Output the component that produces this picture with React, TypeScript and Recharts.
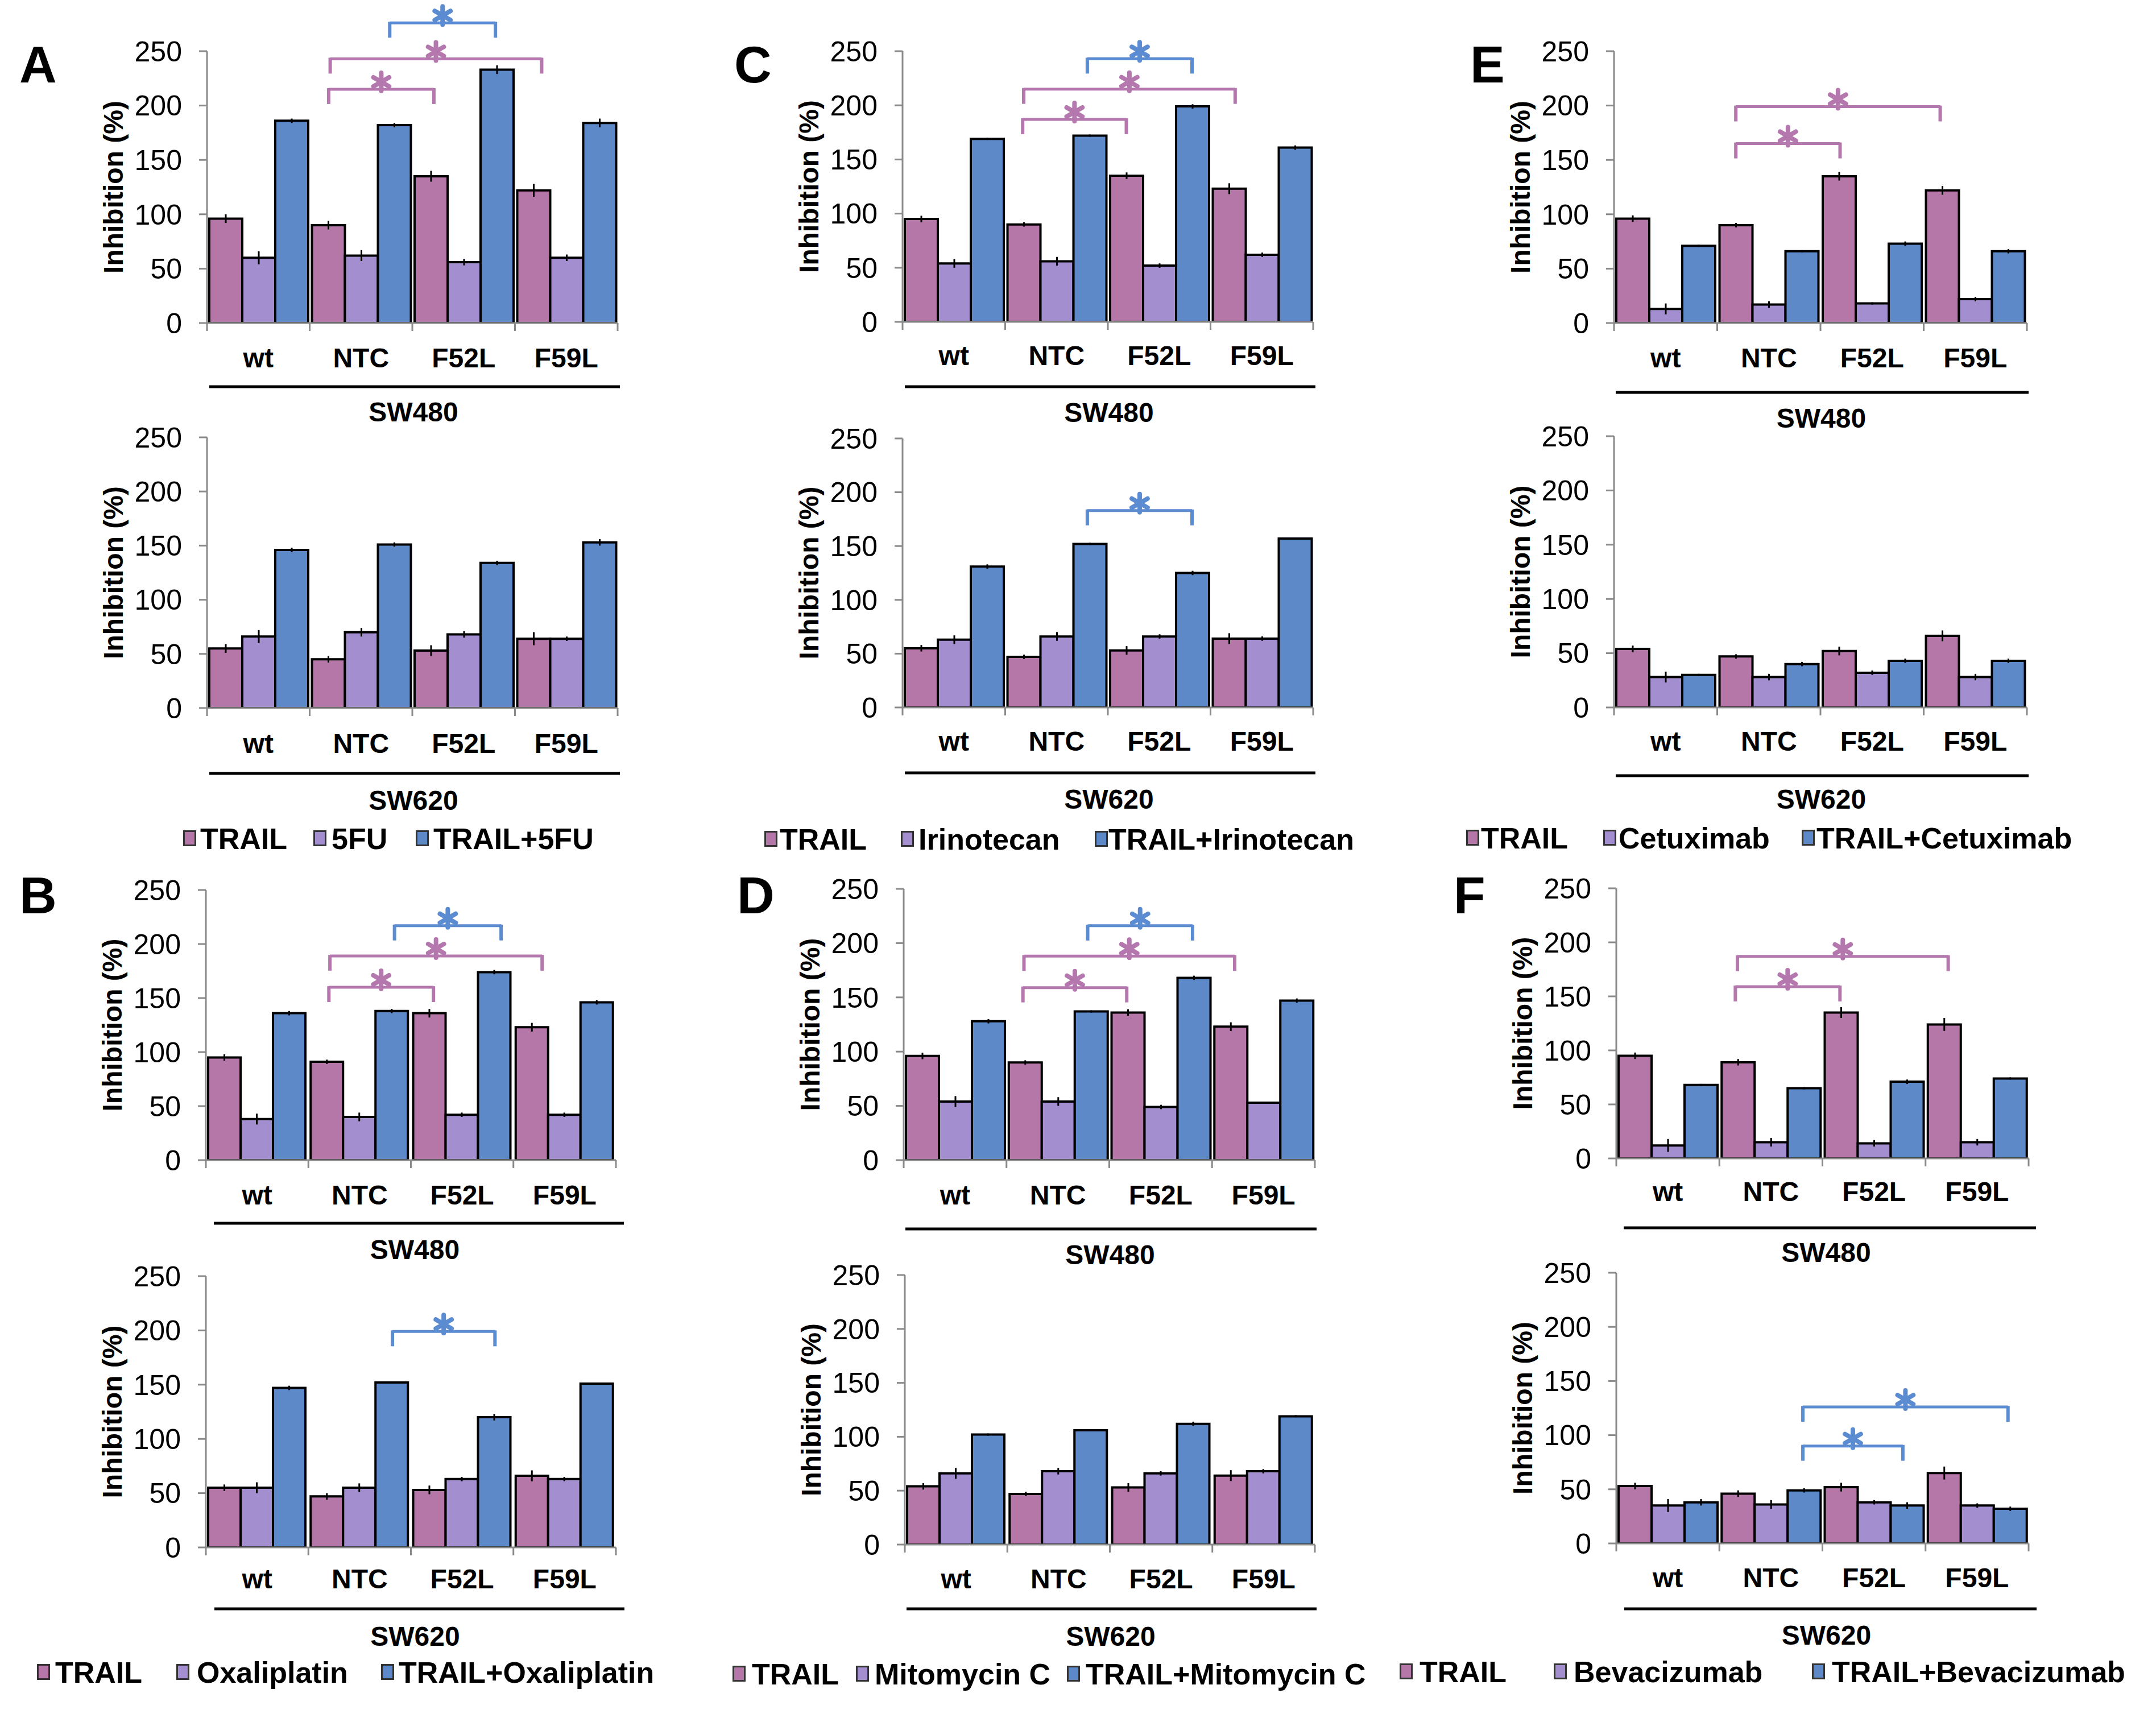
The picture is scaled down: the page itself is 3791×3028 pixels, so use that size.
import React from 'react';
import { BarChart, Bar, XAxis, YAxis, ErrorBar, ReferenceLine, ReferenceDot } from 'recharts';

const FONT = '"Liberation Sans", Arial, Helvetica, sans-serif';
const TRAIL_COLOR = '#B477A8';
const DRUG_COLOR = '#A38ECF';
const COMBO_COLOR = '#5D89C8';
const PINK = '#B578AE';
const BLUE = '#5B8BD0';
const AXIS_GRAY = '#8A8A8A';

const categories = ['wt', 'NTC', 'F52L', 'F59L'];
const yTicks = [0, 50, 100, 150, 200, 250];
const boundaryTicks = [0, 1, 2, 3, 4];
const drugNames = ['5FU', 'Oxaliplatin', 'Irinotecan', 'Mitomycin C', 'Cetuximab', 'Bevacizumab'];

// A: 5FU
const aTopTrail = [96, 90, 135, 122];
const aTopDrug = [60, 62, 56, 60];
const aTopCombo = [186, 182, 233, 184];
const aTopErr = [[4, 4, 5, 6], [6, 5, 3, 3], [2, 2, 4, 4]];
const aTopBrackets = [
  { from: 1.78, to: 2.81, y: 276, color: BLUE },
  { from: 1.2, to: 3.26, y: 243, color: PINK },
  { from: 1.185, to: 2.21, y: 215, color: PINK },
];
const aBotTrail = [55, 45, 53, 64];
const aBotDrug = [66, 70, 68, 64];
const aBotCombo = [146, 151, 134, 153];
const aBotErr = [[4, 3, 5, 6], [6, 4, 3, 2], [2, 2, 2, 3]];

// B: Oxaliplatin
const bTopTrail = [95, 91, 136, 123];
const bTopDrug = [38, 40, 42, 42];
const bTopCombo = [136, 138, 174, 146];
const bTopErr = [[3, 2, 4, 4], [5, 4, 2, 2], [2, 2, 2, 2]];
const bTopBrackets = [
  { from: 1.84, to: 2.88, y: 217, color: BLUE },
  { from: 1.21, to: 3.28, y: 189, color: PINK },
  { from: 1.2, to: 2.22, y: 160, color: PINK },
];
const bBotTrail = [55, 47, 53, 66];
const bBotDrug = [55, 55, 63, 63];
const bBotCombo = [147, 152, 120, 151];
const bBotErr = [[3, 3, 4, 5], [5, 4, 2, 2], [2, 1, 3, 1]];
const bBotBrackets = [{ from: 1.82, to: 2.82, y: 199, color: BLUE }];

// C: Irinotecan
const cTopTrail = [95, 90, 135, 123];
const cTopDrug = [54, 56, 52, 62];
const cTopCombo = [169, 172, 199, 161];
const cTopErr = [[3, 2, 3, 5], [4, 4, 2, 2], [1, 1, 2, 2]];
const cTopBrackets = [
  { from: 1.8, to: 2.82, y: 243, color: BLUE },
  { from: 1.18, to: 3.24, y: 215, color: PINK },
  { from: 1.17, to: 2.18, y: 187, color: PINK },
];
const cBotTrail = [55, 47, 53, 64];
const cBotDrug = [63, 66, 66, 64];
const cBotCombo = [131, 152, 125, 157];
const cBotErr = [[3, 2, 4, 5], [4, 4, 2, 2], [2, 1, 2, 1]];
const cBotBrackets = [{ from: 1.8, to: 2.82, y: 183, color: BLUE }];

// D: Mitomycin C
const dTopTrail = [96, 90, 136, 123];
const dTopDrug = [54, 54, 49, 53];
const dTopCombo = [128, 137, 168, 147];
const dTopErr = [[3, 2, 3, 4], [5, 4, 2, 1], [2, 1, 2, 2]];
const dTopBrackets = [
  { from: 1.79, to: 2.81, y: 216, color: BLUE },
  { from: 1.17, to: 3.22, y: 188, color: PINK },
  { from: 1.16, to: 2.17, y: 159, color: PINK },
];
const dBotTrail = [54, 47, 53, 64];
const dBotDrug = [66, 68, 66, 68];
const dBotCombo = [102, 106, 112, 119];
const dBotErr = [[3, 2, 4, 5], [5, 3, 2, 2], [1, 1, 2, 1]];

// E: Cetuximab
const eTopTrail = [96, 90, 135, 122];
const eTopDrug = [13, 17, 18, 22];
const eTopCombo = [71, 66, 73, 66];
const eTopErr = [[3, 2, 4, 4], [5, 3, 1, 2], [1, 1, 2, 2]];
const eTopBrackets = [
  { from: 1.18, to: 3.16, y: 199, color: PINK },
  { from: 1.18, to: 2.19, y: 165, color: PINK },
];
const eBotTrail = [54, 47, 52, 66];
const eBotDrug = [28, 28, 32, 28];
const eBotCombo = [30, 40, 43, 43];
const eBotErr = [[3, 2, 4, 5], [5, 3, 2, 3], [1, 2, 2, 2]];

// F: Bevacizumab
const fTopTrail = [95, 89, 135, 124];
const fTopDrug = [12, 15, 14, 15];
const fTopCombo = [68, 65, 71, 74];
const fTopErr = [[3, 3, 5, 6], [6, 4, 3, 3], [1, 1, 2, 1]];
const fTopBrackets = [
  { from: 1.175, to: 3.22, y: 187, color: PINK },
  { from: 1.155, to: 2.17, y: 159, color: PINK },
];
const fBotTrail = [53, 46, 52, 65];
const fBotDrug = [35, 36, 38, 35];
const fBotCombo = [38, 49, 35, 32];
const fBotErr = [[3, 3, 4, 6], [6, 4, 2, 2], [3, 2, 3, 2]];
const fBotBrackets = [
  { from: 1.81, to: 3.8, y: 126, color: BLUE },
  { from: 1.81, to: 2.78, y: 90, color: BLUE },
];

const Y_W = 240;
const M_TOP = 110;
const M_RIGHT = 40;
const X_H = 210;

type Bracket = { from: number; to: number; y: number; color: string };

const Star = (props: any) => {
  const { cx, cy, color } = props;
  const r = 16;
  const c = cy - 13;
  return (
    <g stroke={color} strokeWidth={8} strokeLinecap="round">
      {[90, 30, 150].map((a) => {
        const rad = (a * Math.PI) / 180;
        const dx = r * Math.cos(rad);
        const dy = r * Math.sin(rad);
        return <line key={a} x1={cx - dx} y1={c - dy} x2={cx + dx} y2={c + dy} />;
      })}
    </g>
  );
};

const Panel = ({ p }: any) => {
  const plotW = p.x1 - p.x0;
  const plotH = p.y1 - p.y0;
  const rows = categories.map((c, i) => ({
    cat: c,
    pos: i + 0.5,
    trail: p.trail[i],
    drug: p.drug[i],
    combo: p.combo[i],
    eT: p.err[0][i],
    eD: p.err[1][i],
    eC: p.err[2][i],
  }));
  const legU = (26 * 250) / plotH;
  const tickU = (14 * 250) / plotH;
  const brackets: Bracket[] = p.brackets || [];

  const yLabel = (props: any) => {
    const { x, y, width, height } = props.viewBox;
    const cx = x + width - 165;
    const cy = y + height / 2;
    return (
      <text
        x={cx}
        y={cy}
        transform={`rotate(-90 ${cx} ${cy})`}
        textAnchor="middle"
        dominantBaseline="central"
        fontFamily={FONT}
        fontWeight={700}
        fontSize={48}
        fill="#000"
      >
        Inhibition (%)
      </text>
    );
  };

  const xLabel = (props: any) => {
    const { x, y, width } = props.viewBox;
    return (
      <g>
        <line x1={x + p.dx} x2={x + width + p.dx} y1={y + p.lineOff} y2={y + p.lineOff} stroke="#000" strokeWidth={5} />
        <text
          x={x + width / 2 + p.dx / 2}
          y={y + p.textOff}
          textAnchor="middle"
          dominantBaseline="central"
          fontFamily={FONT}
          fontWeight={700}
          fontSize={48}
          fill="#000"
        >
          {p.cell}
        </text>
      </g>
    );
  };

  return (
    <div style={{ position: 'absolute', left: p.x0 - Y_W, top: p.y0 - M_TOP }}>
      <BarChart
        width={Y_W + plotW + M_RIGHT}
        height={M_TOP + plotH + X_H}
        data={rows}
        margin={{ top: M_TOP, right: M_RIGHT, left: 0, bottom: 0 }}
        barCategoryGap={4}
        barGap={0}
      >
        <XAxis
          xAxisId="c"
          dataKey="cat"
          height={X_H}
          interval={0}
          axisLine={{ stroke: AXIS_GRAY, strokeWidth: 3 }}
          tickLine={false}
          tickSize={0}
          tickMargin={p.tickOff - 17}
          tick={{ fontFamily: FONT, fontWeight: 700, fontSize: 48, fill: '#000' }}
          label={xLabel}
        />
        <XAxis
          xAxisId="n"
          dataKey="pos"
          type="number"
          domain={[0, 4]}
          allowDataOverflow
          padding={{ left: 0, right: 0 }}
          hide
        />
        <YAxis
          domain={[0, 250]}
          ticks={yTicks}
          allowDataOverflow
          width={Y_W}
          axisLine={{ stroke: AXIS_GRAY, strokeWidth: 3 }}
          tickLine={{ stroke: AXIS_GRAY, strokeWidth: 3 }}
          tickSize={14}
          tickMargin={30}
          tick={{ fontFamily: FONT, fontSize: 50, fill: '#000' }}
          label={yLabel}
        />
        <Bar xAxisId="c" dataKey="trail" fill={TRAIL_COLOR} stroke="#000" strokeWidth={4} isAnimationActive={false}>
          <ErrorBar dataKey="eT" width={0} stroke="#000" strokeWidth={3} />
        </Bar>
        <Bar xAxisId="c" dataKey="drug" fill={DRUG_COLOR} stroke="#000" strokeWidth={4} isAnimationActive={false}>
          <ErrorBar dataKey="eD" width={0} stroke="#000" strokeWidth={3} />
        </Bar>
        <Bar xAxisId="c" dataKey="combo" fill={COMBO_COLOR} stroke="#000" strokeWidth={4} isAnimationActive={false}>
          <ErrorBar dataKey="eC" width={0} stroke="#000" strokeWidth={3} />
        </Bar>
        {boundaryTicks.map((t) => (
          <ReferenceLine
            key={`bt${t}`}
            xAxisId="n"
            segment={[{ x: t, y: 0 }, { x: t, y: -tickU }]}
            stroke={AXIS_GRAY}
            strokeWidth={3}
            ifOverflow="visible"
          />
        ))}
        {brackets.map((b, i) => [
          <ReferenceLine
            key={`bh${i}`}
            xAxisId="n"
            segment={[{ x: b.from, y: b.y }, { x: b.to, y: b.y }]}
            stroke={b.color}
            strokeWidth={5}
            ifOverflow="visible"
          />,
          <ReferenceLine
            key={`bl${i}`}
            xAxisId="n"
            segment={[{ x: b.from, y: b.y + 1 }, { x: b.from, y: b.y - legU }]}
            stroke={b.color}
            strokeWidth={6}
            ifOverflow="visible"
          />,
          <ReferenceLine
            key={`br${i}`}
            xAxisId="n"
            segment={[{ x: b.to, y: b.y + 1 }, { x: b.to, y: b.y - legU }]}
            stroke={b.color}
            strokeWidth={6}
            ifOverflow="visible"
          />,
          <ReferenceDot
            key={`bs${i}`}
            xAxisId="n"
            x={(b.from + b.to) / 2}
            y={b.y}
            r={0}
            ifOverflow="visible"
            shape={(sp: any) => <Star cx={sp.cx} cy={sp.cy} color={b.color} />}
          />,
        ])}
      </BarChart>
    </div>
  );
};

const panels = [
  { trail: aTopTrail, drug: aTopDrug, combo: aTopCombo, err: aTopErr, brackets: aTopBrackets, cell: 'SW480', x0: 364, x1: 1086, y0: 90, y1: 568, tickOff: 61, lineOff: 112, textOff: 156, dx: 4 },
  { trail: aBotTrail, drug: aBotDrug, combo: aBotCombo, err: aBotErr, brackets: [], cell: 'SW620', x0: 364, x1: 1086, y0: 769, y1: 1245, tickOff: 62, lineOff: 115, textOff: 162, dx: 4 },
  { trail: bTopTrail, drug: bTopDrug, combo: bTopCombo, err: bTopErr, brackets: bTopBrackets, cell: 'SW480', x0: 362, x1: 1083, y0: 1565, y1: 2040, tickOff: 61, lineOff: 111, textOff: 157, dx: 14 },
  { trail: bBotTrail, drug: bBotDrug, combo: bBotCombo, err: bBotErr, brackets: bBotBrackets, cell: 'SW620', x0: 362, x1: 1083, y0: 2244, y1: 2721, tickOff: 55, lineOff: 108, textOff: 156, dx: 15 },
  { trail: cTopTrail, drug: cTopDrug, combo: cTopCombo, err: cTopErr, brackets: cTopBrackets, cell: 'SW480', x0: 1587, x1: 2309, y0: 90, y1: 566, tickOff: 59, lineOff: 114, textOff: 159, dx: 4 },
  { trail: cBotTrail, drug: cBotDrug, combo: cBotCombo, err: cBotErr, brackets: cBotBrackets, cell: 'SW620', x0: 1587, x1: 2309, y0: 771, y1: 1244, tickOff: 59, lineOff: 115, textOff: 161, dx: 4 },
  { trail: dTopTrail, drug: dTopDrug, combo: dTopCombo, err: dTopErr, brackets: dTopBrackets, cell: 'SW480', x0: 1589, x1: 2312, y0: 1563, y1: 2040, tickOff: 61, lineOff: 121, textOff: 166, dx: 3 },
  { trail: dBotTrail, drug: dBotDrug, combo: dBotCombo, err: dBotErr, brackets: [], cell: 'SW620', x0: 1591, x1: 2312, y0: 2242, y1: 2716, tickOff: 60, lineOff: 113, textOff: 161, dx: 3 },
  { trail: eTopTrail, drug: eTopDrug, combo: eTopCombo, err: eTopErr, brackets: eTopBrackets, cell: 'SW480', x0: 2838, x1: 3564, y0: 90, y1: 568, tickOff: 61, lineOff: 122, textOff: 167, dx: 3 },
  { trail: eBotTrail, drug: eBotDrug, combo: eBotCombo, err: eBotErr, brackets: [], cell: 'SW620', x0: 2838, x1: 3564, y0: 767, y1: 1244, tickOff: 59, lineOff: 120, textOff: 161, dx: 3 },
  { trail: fTopTrail, drug: fTopDrug, combo: fTopCombo, err: fTopErr, brackets: fTopBrackets, cell: 'SW480', x0: 2842, x1: 3567, y0: 1562, y1: 2037, tickOff: 58, lineOff: 122, textOff: 165, dx: 13 },
  { trail: fBotTrail, drug: fBotDrug, combo: fBotCombo, err: fBotErr, brackets: fBotBrackets, cell: 'SW620', x0: 2842, x1: 3567, y0: 2238, y1: 2714, tickOff: 60, lineOff: 115, textOff: 161, dx: 14 },
];

// legend rows: vertical centre, swatch x and text x for each of the three entries
const legends = [
  { drug: 0, y: 1474, sx: [322, 551, 731], tx: [352, 583, 762] },
  { drug: 1, y: 2940, sx: [65, 310, 670], tx: [97, 346, 701] },
  { drug: 2, y: 1475, sx: [1344, 1584, 1925], tx: [1371, 1615, 1949] },
  { drug: 3, y: 2943, sx: [1288, 1505, 1876], tx: [1322, 1538, 1909] },
  { drug: 4, y: 1473, sx: [2578, 2819, 3168], tx: [2604, 2846, 3194] },
  { drug: 5, y: 2939, sx: [2461, 2732, 3186], tx: [2496, 2767, 3221] },
];

const letters = [
  { t: 'A', x: 34, base: 145 },
  { t: 'B', x: 34, base: 1606 },
  { t: 'C', x: 1291, base: 145 },
  { t: 'D', x: 1296, base: 1606 },
  { t: 'E', x: 2585, base: 145 },
  { t: 'F', x: 2556, base: 1606 },
];

export default function App() {
  return (
    <div style={{ position: 'absolute', left: 0, top: 0, width: 3791, height: 3028, background: '#fff', fontFamily: FONT, overflow: 'hidden' }}>
      {panels.map((p, i) => (
        <Panel key={i} p={p} />
      ))}
      {legends.map((lg, i) => {
        const names = ['TRAIL', drugNames[lg.drug], `TRAIL+${drugNames[lg.drug]}`];
        const colors = [TRAIL_COLOR, DRUG_COLOR, COMBO_COLOR];
        return (
          <React.Fragment key={i}>
            {names.map((n, j) => (
              <React.Fragment key={n}>
                <div
                  style={{
                    position: 'absolute',
                    left: lg.sx[j],
                    top: lg.y - 14,
                    width: 23,
                    height: 28,
                    background: colors[j],
                    border: '3px solid #333',
                    boxSizing: 'border-box',
                  }}
                />
                <div
                  style={{
                    position: 'absolute',
                    left: lg.tx[j],
                    top: lg.y - 25,
                    fontSize: 52,
                    lineHeight: 1,
                    fontWeight: 700,
                    whiteSpace: 'nowrap',
                    color: '#000',
                  }}
                >
                  {n}
                </div>
              </React.Fragment>
            ))}
          </React.Fragment>
        );
      })}
      {letters.map((l) => (
        <div
          key={l.t}
          style={{ position: 'absolute', left: l.x, top: l.base - 77, fontSize: 91, lineHeight: 1, fontWeight: 700, color: '#000' }}
        >
          {l.t}
        </div>
      ))}
    </div>
  );
}
